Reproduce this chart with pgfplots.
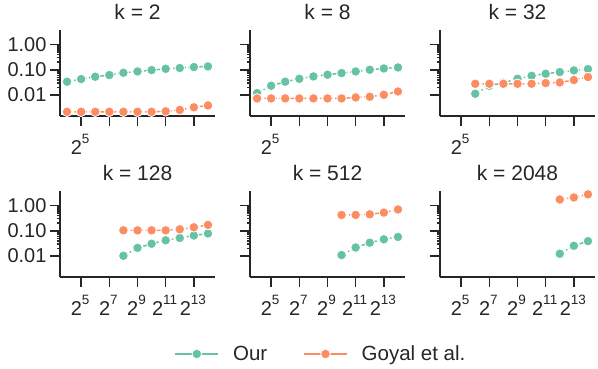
\documentclass[border=0pt]{standalone}
\usepackage{fontspec}
\setmainfont{Liberation Sans}
\usepackage{pgfplots}
\pgfplotsset{compat=1.18}

\definecolor{ourc}{HTML}{66C2A5}
\definecolor{goyc}{HTML}{FC8D62}
\definecolor{ink}{HTML}{262626}
\newcommand{\fs}{\fontsize{20bp}{24bp}\selectfont}
\newcommand{\ft}{\fontsize{21bp}{25bp}\selectfont}
% tick label 2^n, set like matplotlib's mathtext
\newcommand{\pw}[1]{\fontsize{20bp}{21bp}\selectfont 2\raisebox{10.5bp}{\fontsize{13.5bp}{14bp}\selectfont #1}}

\pgfplotsset{
  kpanel/.style={
    scale only axis, width=155bp, height=86bp,
    log basis x=2,
    xmin=11.31, xmax=23170, ymin=0.0015, ymax=3.7,
    axis x line*=bottom, axis y line*=left,
    axis line style={ink, line width=1.6bp},
    tick style={ink, line width=1.6bp},
    major tick length=10bp,
    tick align=outside,
    xtick={32,128,512,2048,8192},
    ytick={0.01,0.1,1},
    minor xtick={}, minor ytick={},
    xticklabels={},
    yticklabels={},
    ticklabel style={font=\fs, text=ink},
    xticklabel style={yshift=-5bp, xshift=-1bp},
    title style={font=\ft, text=ink, yshift=1bp},
    every axis plot/.append style={line width=1.5bp,
      dash pattern=on 4.8bp off 2.4bp on 1.5bp off 2.4bp, mark=*, mark size=4.8bp},
  },
  kleft/.style={yticklabels={0.01,0.10,1.00}},
  ktop/.style={xticklabels={\pw{5},,,,}},
  kbot/.style={xticklabels={\pw{5},\pw{7},\pw{9},\pw{11},\pw{13}}},
  sour/.style={color=ourc, mark options={solid, fill=ourc, draw=white, line width=0.8bp}},
  sgoy/.style={color=goyc, mark options={solid, fill=goyc, draw=white, line width=0.8bp}},
}

\begin{document}
\begin{tikzpicture}
\useasboundingbox (0,0) rectangle (598bp,369bp);

% k = 2
\begin{loglogaxis}[kpanel, kleft, ktop, title={k = 2}, at={(60bp,253bp)}, anchor=south west]
\addplot[sour] coordinates {(16,0.0337) (32,0.043) (64,0.053) (128,0.0618) (256,0.076) (512,0.0857) (1024,0.097) (2048,0.109) (4096,0.117) (8192,0.128) (16384,0.135)};
\addplot[sgoy] coordinates {(16,0.0022) (32,0.0022) (64,0.0022) (128,0.0022) (256,0.0022) (512,0.0022) (1024,0.0022) (2048,0.0023) (4096,0.0026) (8192,0.0033) (16384,0.0039)};
\end{loglogaxis}

% k = 8
\begin{loglogaxis}[kpanel, ktop, title={k = 8}, at={(250bp,253bp)}, anchor=south west]
\addplot[sour] coordinates {(16,0.012) (32,0.0234) (64,0.0337) (128,0.0441) (256,0.0545) (512,0.0635) (1024,0.074) (2048,0.0857) (4096,0.1) (8192,0.1125) (16384,0.123)};
\addplot[sgoy] coordinates {(16,0.0074) (32,0.0074) (64,0.0074) (128,0.0074) (256,0.0074) (512,0.0074) (1024,0.0074) (2048,0.0081) (4096,0.0086) (8192,0.0103) (16384,0.0139)};
\end{loglogaxis}

% k = 32
\begin{loglogaxis}[kpanel, ktop, title={k = 32}, at={(440bp,253bp)}, anchor=south west]
\addplot[sour] coordinates {(64,0.0113) (128,0.0234) (256,0.0307) (512,0.0441) (1024,0.058) (2048,0.0695) (4096,0.081) (8192,0.094) (16384,0.1066)};
\addplot[sgoy] coordinates {(64,0.028) (128,0.028) (256,0.028) (512,0.028) (1024,0.028) (2048,0.0298) (4096,0.0316) (8192,0.0393) (16384,0.0515)};
\end{loglogaxis}

% k = 128
\begin{loglogaxis}[kpanel, kleft, kbot, title={k = 128}, at={(60bp,92bp)}, anchor=south west]
\addplot[sour] coordinates {(256,0.0103) (512,0.0211) (1024,0.0307) (2048,0.042) (4096,0.052) (8192,0.0649) (16384,0.078)};
\addplot[sgoy] coordinates {(256,0.104) (512,0.104) (1024,0.104) (2048,0.104) (4096,0.114) (8192,0.137) (16384,0.17)};
\end{loglogaxis}

% k = 512
\begin{loglogaxis}[kpanel, kbot, title={k = 512},
  legend style={at={(0.458,-0.895)}, anchor=center, draw=none, fill=none,
    font=\fontsize{20.5bp}{24bp}\selectfont, text=ink, legend columns=2,
    /tikz/every odd column/.append style={column sep=12bp},
    /tikz/every even column/.append style={column sep=34bp}},
  legend cell align=left,
  legend image code/.code={\draw[mark repeat=2, mark phase=2, #1] plot coordinates {(0bp,0bp) (21.5bp,0bp) (43bp,0bp)};},
  at={(250bp,92bp)}, anchor=south west]
\addplot[sour, forget plot] coordinates {(1024,0.011) (2048,0.0218) (4096,0.0338) (8192,0.046) (16384,0.057)};
\addplot[sgoy, forget plot] coordinates {(1024,0.42) (2048,0.42) (4096,0.446) (8192,0.52) (16384,0.69)};
\addlegendimage{sour, solid, line width=1.5bp, mark=*, mark size=4.8bp}
\addlegendentry{Our}
\addlegendimage{sgoy, solid, line width=1.5bp, mark=*, mark size=4.8bp}
\addlegendentry{Goyal et al.}
\end{loglogaxis}

% k = 2048
\begin{loglogaxis}[kpanel, kbot, title={k = 2048}, at={(440bp,92bp)}, anchor=south west]
\addplot[sour] coordinates {(4096,0.0124) (8192,0.0256) (16384,0.039)};
\addplot[sgoy] coordinates {(4096,1.71) (8192,2.06) (16384,2.73)};
\end{loglogaxis}
\end{tikzpicture}
\end{document}
